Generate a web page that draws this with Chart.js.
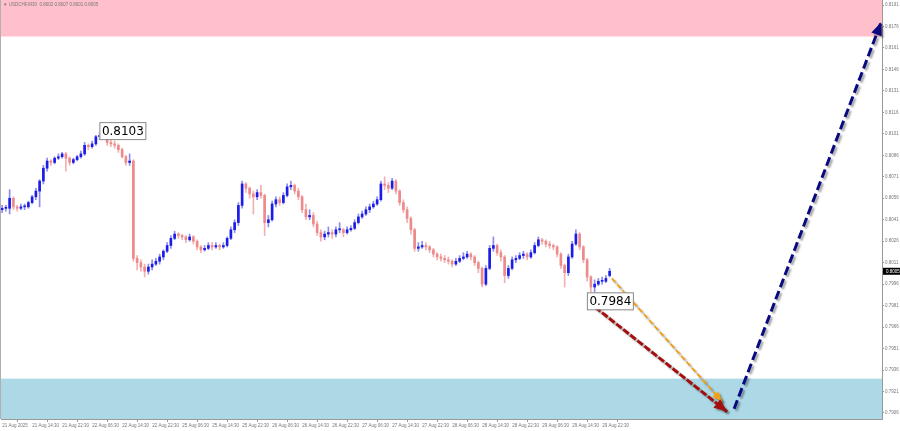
<!DOCTYPE html>
<html>
<head>
<meta charset="utf-8">
<script src="https://cdn.jsdelivr.net/npm/chart.js@4.4.1/dist/chart.umd.min.js"></script>
<style>
  html, body { margin: 0; padding: 0; background: #fff; }
  #wrap { width: 900px; height: 431px; }
</style>
</head>
<body>
<div id="wrap"><canvas id="priceChart" width="900" height="431"></canvas></div>
<script>
// USDCHF M30 - candles (one per hour slot)
const opens = [0.8048,0.8049,0.8049,0.8056,0.8050,0.8049,0.8050,0.8050,0.8053,0.8057,
0.8061,0.8068,0.8077,0.8082,0.8081,0.8084,0.8085,0.8087,0.8084,0.8081,
0.8083,0.8085,0.8087,0.8093,0.8092,0.8094,0.8099,0.8100,0.8103,0.8095,
0.8094,0.8093,0.8090,0.8085,0.8081,0.8082,0.8014,0.8011,0.8008,0.8005,
0.8008,0.8010,0.8012,0.8015,0.8019,0.8023,0.8028,0.8031,0.8030,0.8029,
0.8027,0.8029,0.8026,0.8022,0.8020,0.8021,0.8023,0.8022,0.8023,0.8022,
0.8023,0.8028,0.8034,0.8039,0.8051,0.8066,0.8063,0.8059,0.8057,0.8060,
0.8058,0.8039,0.8041,0.8052,0.8055,0.8053,0.8058,0.8064,0.8065,0.8061,
0.8057,0.8048,0.8043,0.8044,0.8038,0.8032,0.8029,0.8031,0.8032,0.8031,
0.8034,0.8034,0.8032,0.8034,0.8035,0.8039,0.8043,0.8045,0.8048,0.8050,
0.8052,0.8055,0.8066,0.8065,0.8063,0.8068,0.8061,0.8053,0.8048,0.8042,
0.8034,0.8021,0.8022,0.8023,0.8022,0.8020,0.8017,0.8015,0.8014,0.8013,
0.8012,0.8010,0.8012,0.8014,0.8015,0.8017,0.8015,0.8011,0.8007,0.7996,
0.8007,0.8021,0.8023,0.8018,0.8015,0.8002,0.8007,0.8013,0.8014,0.8016,
0.8017,0.8015,0.8018,0.8023,0.8027,0.8026,0.8024,0.8023,0.8022,0.8017,
0.8009,0.8004,0.8015,0.8024,0.8031,0.8022,0.8013,0.8001,0.7994,0.7996,
0.7998,0.7998,0.8002];

const highs = [0.8051,0.8051,0.8062,0.8057,0.8051,0.8052,0.8052,0.8054,0.8058,0.8063,
0.8069,0.8079,0.8084,0.8083,0.8085,0.8087,0.8088,0.8088,0.8085,0.8084,
0.8086,0.8089,0.8095,0.8094,0.8096,0.8100,0.8102,0.8105,0.8104,0.8097,
0.8096,0.8094,0.8091,0.8086,0.8087,0.8083,0.8016,0.8013,0.8010,0.8010,
0.8013,0.8014,0.8017,0.8020,0.8025,0.8030,0.8033,0.8032,0.8031,0.8030,
0.8031,0.8030,0.8027,0.8023,0.8023,0.8025,0.8025,0.8025,0.8024,0.8025,
0.8029,0.8036,0.8041,0.8053,0.8068,0.8067,0.8064,0.8061,0.8062,0.8065,
0.8059,0.8044,0.8054,0.8057,0.8057,0.8060,0.8066,0.8068,0.8066,0.8063,
0.8058,0.8052,0.8048,0.8046,0.8040,0.8034,0.8033,0.8036,0.8034,0.8036,
0.8039,0.8035,0.8036,0.8037,0.8041,0.8045,0.8047,0.8050,0.8052,0.8054,
0.8057,0.8068,0.8071,0.8067,0.8070,0.8069,0.8062,0.8055,0.8050,0.8043,
0.8035,0.8025,0.8026,0.8025,0.8023,0.8021,0.8018,0.8017,0.8016,0.8015,
0.8013,0.8014,0.8016,0.8018,0.8019,0.8018,0.8016,0.8012,0.8008,0.8009,
0.8023,0.8029,0.8024,0.8020,0.8016,0.8009,0.8015,0.8016,0.8018,0.8019,
0.8018,0.8020,0.8025,0.8029,0.8028,0.8027,0.8026,0.8024,0.8023,0.8018,
0.8010,0.8017,0.8026,0.8034,0.8032,0.8023,0.8014,0.8002,0.7999,0.8000,
0.8001,0.8002,0.8007];

const lows = [0.8046,0.8047,0.8045,0.8048,0.8047,0.8048,0.8048,0.8049,0.8052,0.8055,
0.8050,0.8066,0.8075,0.8079,0.8080,0.8083,0.8084,0.8075,0.8079,0.8080,
0.8082,0.8084,0.8086,0.8090,0.8091,0.8093,0.8097,0.8099,0.8093,0.8092,
0.8091,0.8088,0.8084,0.8079,0.8079,0.8012,0.8006,0.8005,0.8001,0.8003,
0.8006,0.8009,0.8010,0.8013,0.8018,0.8021,0.8027,0.8028,0.8027,0.8025,
0.8026,0.8024,0.8020,0.8018,0.8019,0.8020,0.8020,0.8021,0.8020,0.8021,
0.8022,0.8027,0.8032,0.8037,0.8049,0.8060,0.8056,0.8045,0.8055,0.8056,
0.8030,0.8036,0.8040,0.8050,0.8051,0.8052,0.8057,0.8062,0.8059,0.8055,
0.8046,0.8041,0.8041,0.8036,0.8030,0.8026,0.8027,0.8029,0.8028,0.8029,
0.8032,0.8029,0.8031,0.8033,0.8034,0.8038,0.8042,0.8044,0.8046,0.8049,
0.8051,0.8054,0.8062,0.8060,0.8062,0.8059,0.8051,0.8046,0.8039,0.8031,
0.8019,0.8019,0.8021,0.8020,0.8018,0.8015,0.8013,0.8012,0.8011,0.8010,
0.8008,0.8009,0.8011,0.8013,0.8014,0.8013,0.8009,0.8004,0.7994,0.7995,
0.8006,0.8019,0.8016,0.8012,0.7997,0.8000,0.8006,0.8011,0.8013,0.8014,
0.8013,0.8014,0.8017,0.8022,0.8024,0.8022,0.8021,0.8020,0.8015,0.8007,
0.7994,0.8002,0.8014,0.8023,0.8020,0.8011,0.7998,0.7984,0.7990,0.7995,
0.7996,0.7997,0.8001];

const closes = [0.8049,0.8049,0.8056,0.8050,0.8049,0.8050,0.8050,0.8053,0.8057,0.8061,
0.8068,0.8077,0.8082,0.8081,0.8084,0.8085,0.8087,0.8084,0.8081,0.8083,
0.8085,0.8087,0.8093,0.8092,0.8094,0.8099,0.8100,0.8103,0.8095,0.8094,
0.8093,0.8090,0.8085,0.8081,0.8082,0.8014,0.8011,0.8008,0.8005,0.8008,
0.8010,0.8012,0.8015,0.8019,0.8023,0.8028,0.8031,0.8030,0.8029,0.8027,
0.8029,0.8026,0.8022,0.8020,0.8021,0.8023,0.8022,0.8023,0.8022,0.8023,
0.8028,0.8034,0.8039,0.8051,0.8066,0.8063,0.8059,0.8057,0.8060,0.8058,
0.8039,0.8041,0.8052,0.8055,0.8053,0.8058,0.8064,0.8065,0.8061,0.8057,
0.8048,0.8043,0.8044,0.8038,0.8032,0.8029,0.8031,0.8032,0.8031,0.8034,
0.8034,0.8032,0.8034,0.8035,0.8039,0.8043,0.8045,0.8048,0.8050,0.8052,
0.8055,0.8066,0.8065,0.8063,0.8068,0.8061,0.8053,0.8048,0.8042,0.8034,
0.8021,0.8022,0.8023,0.8022,0.8020,0.8017,0.8015,0.8014,0.8013,0.8012,
0.8010,0.8012,0.8014,0.8015,0.8017,0.8015,0.8011,0.8007,0.7996,0.8007,
0.8021,0.8023,0.8018,0.8015,0.8002,0.8007,0.8013,0.8014,0.8016,0.8017,
0.8015,0.8018,0.8023,0.8027,0.8026,0.8024,0.8023,0.8022,0.8017,0.8009,
0.8004,0.8015,0.8024,0.8031,0.8022,0.8013,0.8001,0.7994,0.7996,0.7998,
0.7998,0.8000,0.8005];

// time labels, one every 8 slots
const timeLabels = ['21 Aug 2025','21 Aug 14:30','21 Aug 22:30','22 Aug 06:30','22 Aug 14:30',
  '22 Aug 22:30','25 Aug 06:30','25 Aug 14:30','25 Aug 22:30','26 Aug 06:30','26 Aug 14:30',
  '26 Aug 22:30','27 Aug 06:30','27 Aug 14:30','27 Aug 22:30','28 Aug 06:30','28 Aug 14:30',
  '28 Aug 22:30','29 Aug 06:30','29 Aug 14:30','29 Aug 22:30'];
const labelStep = 8;

const priceTicks = [0.8191,0.8176,0.8161,0.8146,0.8131,0.8116,0.8101,0.8086,0.8071,0.8056,
  0.8041,0.8026,0.8011,0.7996,0.7981,0.7966,0.7951,0.7936,0.7921,0.7906];

// zones (price ranges)
const resistanceZone = [0.8169, 0.8200];
const supportZone = [0.7890, 0.7930];

// forecast arrows: [slot, price] start and end
const redArrow = [[158.1, 0.7980], [193.3, 0.7907]];
const orangeArrow = [[162.6, 0.8000], [192.0, 0.7914]];
const navyArrow = [[195.2, 0.7909], [234.4, 0.8179]];

// marked extremes
const marks = [{ slot: 27, text: '0.8103', kind: 'high' }, { slot: 157, text: '0.7984', kind: 'low' }];

const titleText = '\u25BC USDCHF,M30  0.8002 0.8007 0.8001 0.8005';

document.addEventListener('DOMContentLoaded', function () {
    const ctx = document.getElementById('priceChart').getContext('2d');

    const upBody = '#1c1ce8', upWick = '#8c8cf0';
    const downBody = '#ee8a8a', downWick = '#f4b0b0';
    const axisFont = { family: 'Liberation Sans', size: 4.5 };

    const bodies = closes.map((c, i) => ({ x: i, y: [opens[i], c] }));
    const wicks = closes.map((c, i) => ({ x: i, y: [lows[i], highs[i]] }));
    const isUp = closes.map((c, i) => c >= opens[i]);

    function arrowData(a) {
        return a.map(p => ({ x: p[0], y: p[1] }));
    }

    const arrowSets = ['red', 'orange', 'navy'];

    const overlays = {
        id: 'overlays',
        beforeDatasetsDraw(chart) {
            const { ctx, chartArea: a, scales: { y } } = chart;
            ctx.save();
            ctx.beginPath();
            ctx.rect(a.left, a.top, a.right - a.left, a.bottom - a.top);
            ctx.clip();
            let t = y.getPixelForValue(resistanceZone[1]);
            let b = y.getPixelForValue(resistanceZone[0]);
            ctx.fillStyle = '#ffc0cb';
            ctx.fillRect(a.left, t, a.right - a.left, b - t);
            t = y.getPixelForValue(supportZone[1]);
            b = y.getPixelForValue(supportZone[0]);
            ctx.fillStyle = '#add8e6';
            ctx.fillRect(a.left, t, a.right - a.left, b - t);
            ctx.restore();
            // left frame line
            ctx.save();
            ctx.strokeStyle = '#b0b0b0';
            ctx.lineWidth = 1;
            ctx.beginPath();
            ctx.moveTo(0.5, a.top);
            ctx.lineTo(0.5, a.bottom);
            ctx.stroke();
            ctx.restore();
        },
        beforeDatasetDraw(chart, args) {
            const ds = chart.data.datasets[args.index];
            if (arrowSets.includes(ds.label)) {
                chart.ctx.save();
                chart.ctx.shadowColor = 'rgba(0,0,0,0.35)';
                chart.ctx.shadowOffsetX = 2;
                chart.ctx.shadowOffsetY = 2;
                chart.ctx.shadowBlur = 2;
            }
        },
        afterDatasetDraw(chart, args) {
            const ds = chart.data.datasets[args.index];
            if (!arrowSets.includes(ds.label)) return;
            const ctx = chart.ctx;
            const pts = args.meta.data;
            const p1 = pts[pts.length - 2], p2 = pts[pts.length - 1];
            const ang = Math.atan2(p2.y - p1.y, p2.x - p1.x);
            const len = ds.label === 'orange' ? 10 : 13, half = ds.label === 'orange' ? 4 : 5.5;
            ctx.setLineDash([]);
            ctx.fillStyle = ds.borderColor;
            ctx.beginPath();
            ctx.moveTo(p2.x, p2.y);
            ctx.lineTo(p2.x - len * Math.cos(ang) + half * Math.sin(ang), p2.y - len * Math.sin(ang) - half * Math.cos(ang));
            ctx.lineTo(p2.x - len * Math.cos(ang) - half * Math.sin(ang), p2.y - len * Math.sin(ang) + half * Math.cos(ang));
            ctx.closePath();
            ctx.fill();
            ctx.restore();
        },
        afterDatasetsDraw(chart) {
            const { ctx, scales: { x, y } } = chart;
            ctx.save();
            ctx.font = '12px "DejaVu Sans"';
            ctx.textBaseline = 'middle';
            marks.forEach(m => {
                const px = x.getPixelForValue(m.slot);
                const py = y.getPixelForValue(m.kind === 'high' ? highs[m.slot] : lows[m.slot]);
                const w = ctx.measureText(m.text).width + 4;
                const h = 17;
                const left = px - 4;
                const top = m.kind === 'high' ? py - 6 : py - 9;
                ctx.fillStyle = '#ffffff';
                ctx.fillRect(left, top, w, h);
                ctx.strokeStyle = '#888888';
                ctx.lineWidth = 1;
                ctx.strokeRect(left + 0.5, top + 0.5, w, h);
                ctx.fillStyle = '#000000';
                ctx.fillText(m.text, left + 2.5, top + h / 2 + 1);
            });
            ctx.restore();
        },
        afterDraw(chart) {
            const { ctx, chartArea: a, scales: { y } } = chart;
            ctx.save();
            ctx.font = '4.5px "Liberation Sans"';
            ctx.fillStyle = '#777777';
            ctx.textBaseline = 'middle';
            ctx.fillText(titleText, 3, 5);
            // current price marker
            const last = closes[closes.length - 1];
            const py = y.getPixelForValue(last);
            ctx.fillStyle = '#000000';
            ctx.fillRect(a.right + 1, py - 3.5, 900 - a.right, 7);
            ctx.fillStyle = '#ffffff';
            ctx.fillText(last.toFixed(4), a.right + 4, py);
            ctx.restore();
        }
    };

    new Chart(ctx, {
        type: 'bar',
        data: {
            datasets: [
                {
                    label: 'red', type: 'line', order: 0,
                    data: arrowData(redArrow),
                    borderColor: '#a50e0e', borderWidth: 3, borderDash: [7, 2],
                    pointRadius: 0, fill: false
                },
                {
                    label: 'orange', type: 'line', order: 0,
                    data: arrowData(orangeArrow),
                    borderColor: '#f2a016', borderWidth: 2, borderDash: [5, 3],
                    pointRadius: 0, fill: false
                },
                {
                    label: 'navy', type: 'line', order: 0,
                    data: arrowData(navyArrow),
                    borderColor: '#0a0a80', borderWidth: 3, borderDash: [9, 4],
                    pointRadius: 0, fill: false
                },
                {
                    label: 'bodies', order: 1,
                    data: bodies,
                    backgroundColor: isUp.map(u => u ? upBody : downBody),
                    barThickness: 2, minBarLength: 1, grouped: false
                },
                {
                    label: 'wicks', order: 2,
                    data: wicks,
                    backgroundColor: isUp.map(u => u ? upWick : downWick),
                    barThickness: 1, grouped: false
                }
            ]
        },
        options: {
            responsive: false,
            animation: false,
            layout: { padding: { left: 1, top: 0, right: 0, bottom: 0 } },
            plugins: { legend: { display: false }, tooltip: { enabled: false } },
            scales: {
                x: {
                    type: 'linear',
                    offset: false,
                    min: -0.3,
                    max: 234.63,
                    afterBuildTicks(scale) {
                        scale.ticks = timeLabels.map((t, i) => ({ value: i * labelStep }));
                    },
                    afterFit(scale) {
                        scale.height = 12;
                        scale.paddingLeft = 0;
                        scale.paddingRight = 0;
                    },
                    ticks: {
                        autoSkip: false,
                        maxRotation: 0,
                        align: 'start',
                        padding: 1,
                        color: '#777777',
                        font: axisFont,
                        callback: function (value) {
                            return timeLabels[Math.round(value / labelStep)] || '';
                        }
                    },
                    grid: { drawOnChartArea: false, drawTicks: true, tickLength: 3, color: '#999999' },
                    border: { display: true, color: '#999999' }
                },
                y: {
                    position: 'right',
                    min: 0.79018,
                    max: 0.81945,
                    afterBuildTicks(scale) {
                        scale.ticks = priceTicks.map(v => ({ value: v }));
                    },
                    afterFit(scale) {
                        scale.width = 18;
                        scale.paddingTop = 0;
                        scale.paddingBottom = 0;
                    },
                    ticks: {
                        padding: 1,
                        color: '#777777',
                        font: axisFont,
                        callback: function (value) { return value.toFixed(4); }
                    },
                    grid: { drawOnChartArea: false, drawTicks: true, tickLength: 2, color: '#999999' },
                    border: { display: true, color: '#999999' }
                }
            }
        },
        plugins: [overlays]
    });
});
</script>
</body>
</html>
